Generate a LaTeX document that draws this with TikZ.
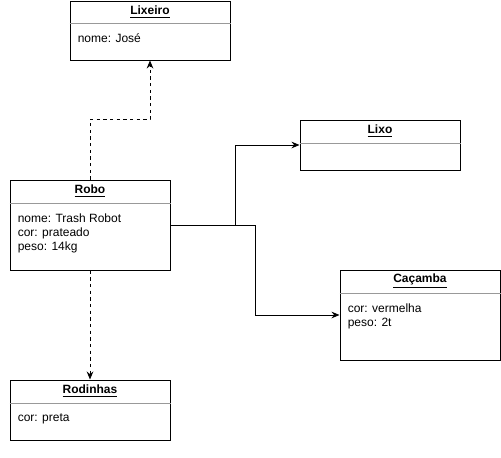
\documentclass[tikz,border=0pt]{standalone}
\usepackage{fontspec}
\setmainfont{Liberation Sans}
\usetikzlibrary{arrows.meta, positioning, calc}
\definecolor{lnblack}{HTML}{000000}
\definecolor{divgray}{HTML}{999999}

\begin{document}
\begin{tikzpicture}[
  x=0.75pt, y=-0.75pt,
  >={Stealth[length=6pt, width=5pt]},
  every node/.style={text=black, font=\fontsize{9}{10.5}\selectfont},
  classbox/.style={draw=lnblack, line width=0.75pt, minimum width=120pt, inner sep=0pt},
  classtitle/.style={font=\fontsize{9}{10.5}\selectfont\bfseries, inner sep=0pt},
  attrs/.style={align=left, anchor=north west, inner sep=0pt},
  divider/.style={divgray, line width=0.75pt},
  assoc/.style={lnblack, line width=0.75pt, ->},
  depend/.style={lnblack, line width=0.75pt, ->, dash pattern=on 2.5pt off 2.5pt},
]

% Background
\fill[white] (0,0) rectangle (501,458);
\useasboundingbox (0,0) rectangle (501,458);

% Lixeiro
\node[classbox, minimum height=44.25pt] (lix) at (150,30.5) {};
\node[classtitle] (lixT) at ([yshift=-8.5pt]lix.north) {\underline{Lixeiro}};
\draw[divider] ([yshift=-17.25pt]lix.north west) -- ([yshift=-17.25pt]lix.north east);
\node[attrs] (lixA) at ([xshift=6pt, yshift=-25pt]lix.north west) {nome: José};

% Robo
\node[classbox, minimum height=67.5pt] (robo) at (90,225) {};
\node[classtitle] (roboT) at ([yshift=-8.5pt]robo.north) {\underline{Robo}};
\draw[divider] ([yshift=-18pt]robo.north west) -- ([yshift=-18pt]robo.north east);
\node[attrs] (roboA) at ([xshift=6pt, yshift=-25.75pt]robo.north west) {nome: Trash Robot\\cor: prateado\\peso: 14kg};

% Lixo
\node[classbox, minimum height=37.5pt] (lixo) at (380,145) {};
\node[classtitle] (lixoT) at ([yshift=-8.5pt]lixo.north) {\underline{Lixo}};
\draw[divider] ([yshift=-18pt]lixo.north west) -- ([yshift=-18pt]lixo.north east);

% Cacamba
\node[classbox, minimum height=67.5pt] (cac) at (420,315) {};
\node[classtitle] (cacT) at ([yshift=-8.5pt]cac.north) {\underline{Caçamba}};
\draw[divider] ([yshift=-18pt]cac.north west) -- ([yshift=-18pt]cac.north east);
\node[attrs] (cacA) at ([xshift=6pt, yshift=-25.75pt]cac.north west) {cor: vermelha\\peso: 2t};

% Rodinhas
\node[classbox, minimum height=45pt] (rod) at (90,410) {};
\node[classtitle] (rodT) at ([yshift=-8.5pt]rod.north) {\underline{Rodinhas}};
\draw[divider] ([yshift=-18pt]rod.north west) -- ([yshift=-18pt]rod.north east);
\node[attrs] (rodA) at ([xshift=6pt, yshift=-25.75pt]rod.north west) {cor: preta};

% Connectors
\draw[depend] (robo.north) -- ++(0,-60) -| (lix.south);
\draw[assoc] (robo.east) -- ++(65,0) |- (lixo.west);
\draw[assoc] (robo.east) -- ++(85,0) |- (cac.west);
\draw[depend] (robo.south) -- (rod.north);

\end{tikzpicture}
\end{document}
